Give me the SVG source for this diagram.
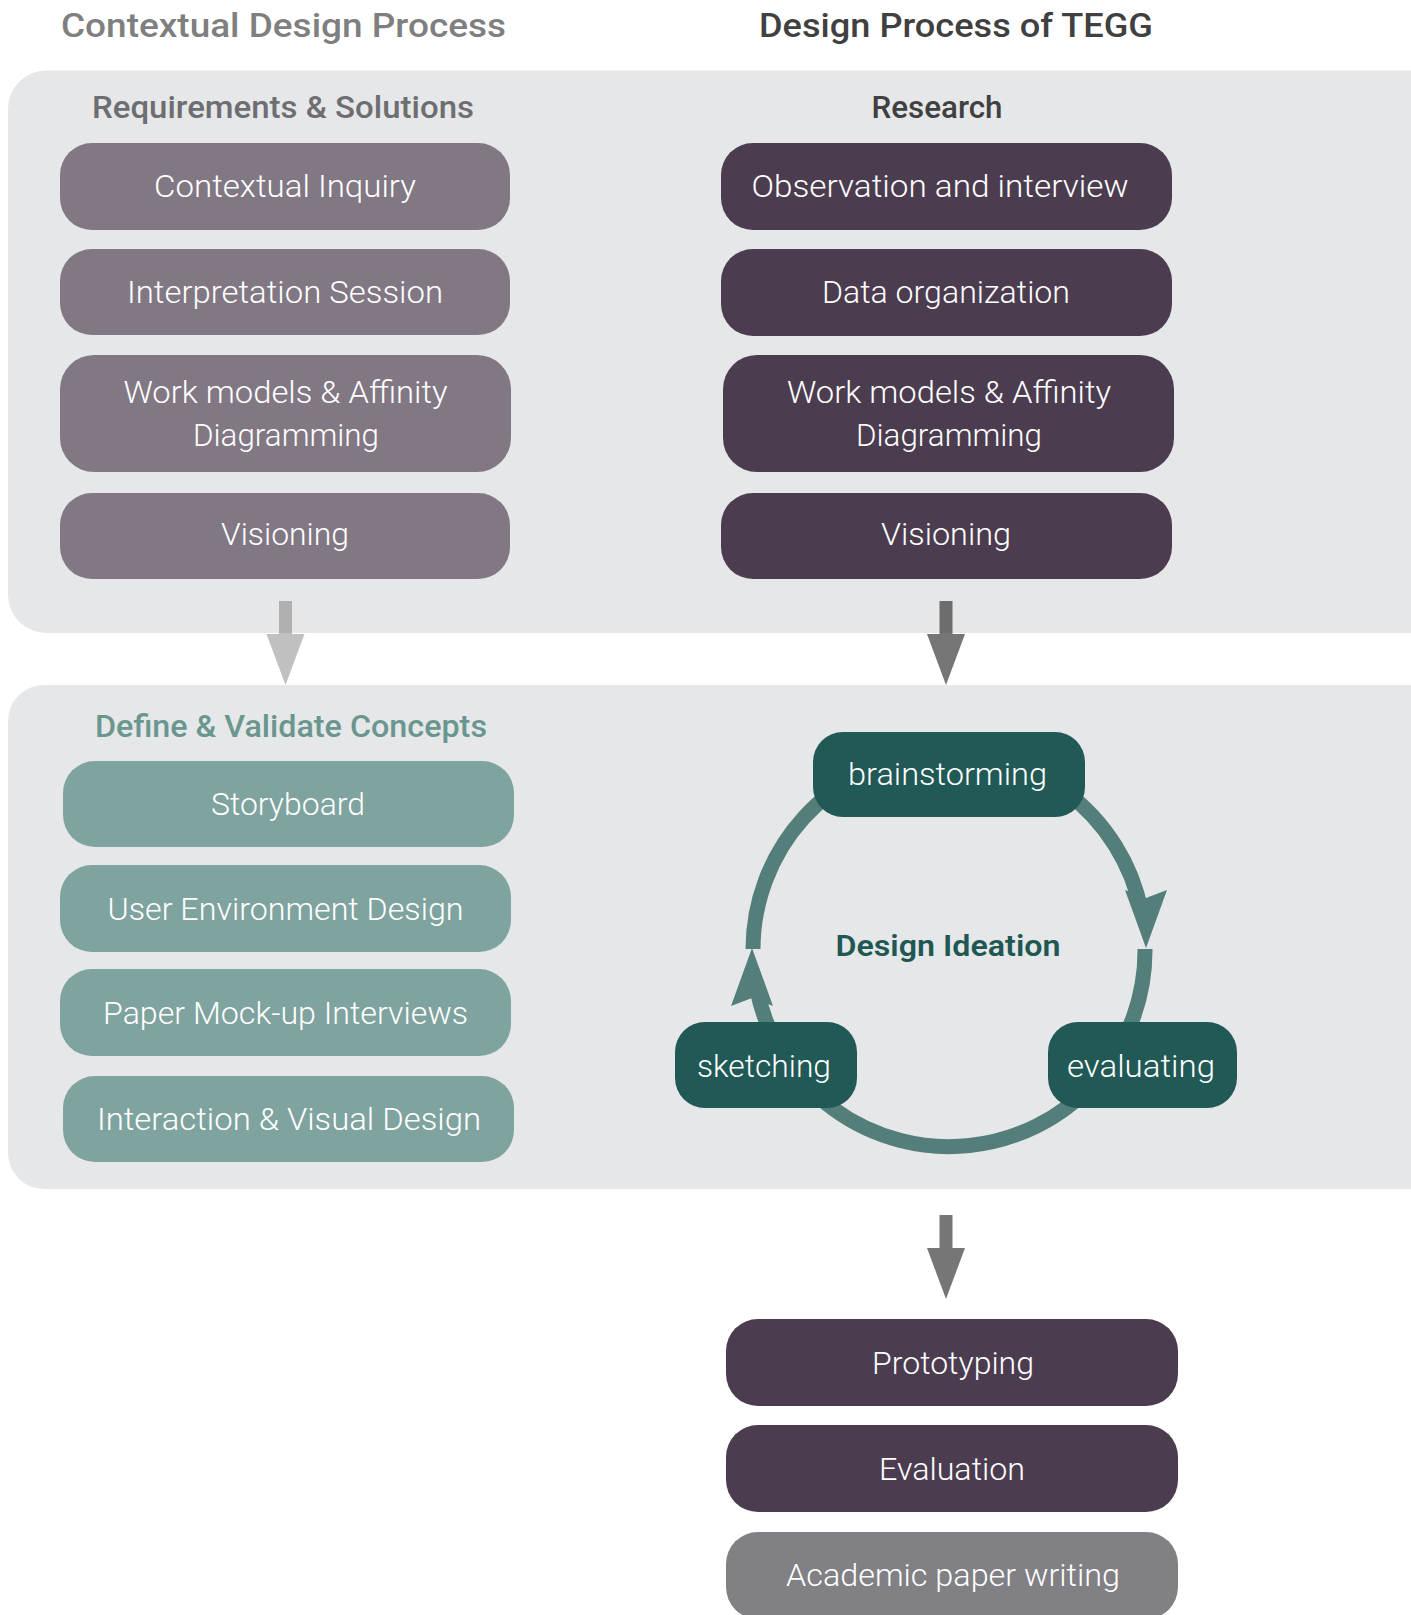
<svg xmlns="http://www.w3.org/2000/svg" xmlns:xlink="http://www.w3.org/1999/xlink" width="1411" height="1615" viewBox="0 0 1411 1615">
  <style>
    text { font-family: Roboto, "Open Sans", "Liberation Sans", sans-serif; }
    .title { font-size: 34px; font-weight: 500; text-anchor: middle; }
    .head { font-size: 30.5px; font-weight: 500; text-anchor: middle; }
    .lbl { font-size: 31px; font-weight: 300; fill: #ffffff; text-anchor: middle; }
    .panel { fill: #e6e7e8; }
    .cd { fill: #817884; }
    .tegg { fill: #4b3d4f; }
    .concept { fill: #7fa39f; }
    .cycle { fill: #205955; }
    .final { fill: #808085; }
    .ring { fill: none; stroke: #537e7a; stroke-width: 15; }
    .ring-head { fill: #537e7a; }
    .flow-light { fill: #505050; fill-opacity: 0.36; }
    .flow-dark { fill: #292929; fill-opacity: 0.64; }
  </style>
  <defs>
    <!-- block arrow between phases, top-centre at origin -->
    <path id="block-arrow" d="M -6.5 0 H 6.5 V 33 H 19 L 0 84 L -19 33 H -6.5 Z"/>
    <!-- notched arrowhead on the ideation ring, tip at origin pointing down -->
    <path id="ring-tip" d="M 0 0 L -21 -58 L 0 -50 L 21 -58 Z"/>
  </defs>

  <rect width="1411" height="1615" fill="#ffffff"/>

  <!-- column titles -->
  <text class="title" x="283.5" y="37" fill="#7f7f7f" textLength="445" lengthAdjust="spacingAndGlyphs">Contextual Design Process</text>
  <text class="title" x="956" y="37" fill="#404040" textLength="394" lengthAdjust="spacingAndGlyphs">Design Process of TEGG</text>

  <!-- phase panels -->
  <g id="panels">
    <rect class="panel" x="8" y="70.5" width="1460" height="562.5" rx="38"/>
    <rect class="panel" x="8" y="685" width="1460" height="504" rx="36"/>
  </g>

  <!-- section headings -->
  <text class="head" x="283" y="118" fill="#6d6e71" textLength="382" lengthAdjust="spacingAndGlyphs">Requirements &amp; Solutions</text>
  <text class="head" x="937" y="118" fill="#404040" textLength="131" lengthAdjust="spacingAndGlyphs">Research</text>
  <text class="head" x="291" y="737" fill="#6a9690" textLength="392" lengthAdjust="spacingAndGlyphs">Define &amp; Validate Concepts</text>

  <!-- connectors -->
  <g id="connectors">
    <use xlink:href="#block-arrow" class="flow-light" transform="translate(285.5 601)"/>
    <use xlink:href="#block-arrow" class="flow-dark" transform="translate(946 601)"/>
    <use xlink:href="#block-arrow" class="flow-dark" transform="translate(946 1215)"/>

    <!-- ideation cycle: sketching -> brainstorming -> evaluating -> sketching -->
    <path class="ring" d="M 753 949 A 196 196 0 0 1 1141 910"/>
    <path class="ring" d="M 1145 949 A 196 196 0 0 1 757 990"/>
    <use xlink:href="#ring-tip" class="ring-head" transform="translate(1146 948)"/>
    <use xlink:href="#ring-tip" class="ring-head" transform="translate(752 948) rotate(180)"/>
  </g>

  <!-- Contextual Design: requirements & solutions -->
  <g id="contextual-inquiry">
    <rect class="cd" x="60" y="143" width="450" height="87" rx="32"/>
    <text class="lbl" x="285" y="197" textLength="262" lengthAdjust="spacingAndGlyphs">Contextual Inquiry</text>
  </g>
  <g id="interpretation-session">
    <rect class="cd" x="60" y="249" width="450" height="86" rx="32"/>
    <text class="lbl" x="285" y="303" textLength="316" lengthAdjust="spacingAndGlyphs">Interpretation Session</text>
  </g>
  <g id="cd-work-models">
    <rect class="cd" x="60" y="355" width="451" height="117" rx="34"/>
    <text class="lbl" x="285.5" y="403" textLength="324" lengthAdjust="spacingAndGlyphs">Work models &amp; Affinity</text>
    <text class="lbl" x="286" y="446" textLength="186" lengthAdjust="spacingAndGlyphs">Diagramming</text>
  </g>
  <g id="cd-visioning">
    <rect class="cd" x="60" y="493" width="450" height="86" rx="32"/>
    <text class="lbl" x="285" y="545" textLength="128" lengthAdjust="spacingAndGlyphs">Visioning</text>
  </g>

  <!-- TEGG: research -->
  <g id="observation-interview">
    <rect class="tegg" x="721" y="143" width="451" height="87" rx="32"/>
    <text class="lbl" x="940" y="197" textLength="377" lengthAdjust="spacingAndGlyphs">Observation and interview</text>
  </g>
  <g id="data-organization">
    <rect class="tegg" x="721" y="249" width="451" height="87" rx="32"/>
    <text class="lbl" x="946" y="303" textLength="248" lengthAdjust="spacingAndGlyphs">Data organization</text>
  </g>
  <g id="tegg-work-models">
    <rect class="tegg" x="723" y="355" width="451" height="117" rx="34"/>
    <text class="lbl" x="949" y="403" textLength="324" lengthAdjust="spacingAndGlyphs">Work models &amp; Affinity</text>
    <text class="lbl" x="949" y="446" textLength="186" lengthAdjust="spacingAndGlyphs">Diagramming</text>
  </g>
  <g id="tegg-visioning">
    <rect class="tegg" x="721" y="493" width="451" height="86" rx="32"/>
    <text class="lbl" x="946" y="545" textLength="130" lengthAdjust="spacingAndGlyphs">Visioning</text>
  </g>

  <!-- Contextual Design: define & validate concepts -->
  <g id="storyboard">
    <rect class="concept" x="63" y="761" width="451" height="86" rx="32"/>
    <text class="lbl" x="288" y="815" textLength="154" lengthAdjust="spacingAndGlyphs">Storyboard</text>
  </g>
  <g id="user-environment-design">
    <rect class="concept" x="60" y="865" width="451" height="87" rx="32"/>
    <text class="lbl" x="285.5" y="920" textLength="356" lengthAdjust="spacingAndGlyphs">User Environment Design</text>
  </g>
  <g id="paper-mockup-interviews">
    <rect class="concept" x="60" y="969" width="451" height="87" rx="32"/>
    <text class="lbl" x="285.5" y="1024" textLength="365" lengthAdjust="spacingAndGlyphs">Paper Mock-up Interviews</text>
  </g>
  <g id="interaction-visual-design">
    <rect class="concept" x="63" y="1076" width="451" height="86" rx="32"/>
    <text class="lbl" x="289" y="1130" textLength="384" lengthAdjust="spacingAndGlyphs">Interaction &amp; Visual Design</text>
  </g>

  <!-- TEGG: design ideation cycle -->
  <g id="design-ideation">
    <text x="948" y="956" font-size="30px" font-weight="600" fill="#1f5753" text-anchor="middle" textLength="225" lengthAdjust="spacingAndGlyphs">Design Ideation</text>
  </g>
  <g id="brainstorming">
    <rect class="cycle" x="813" y="732" width="272" height="85" rx="30"/>
    <text class="lbl" x="947.5" y="785" textLength="199" lengthAdjust="spacingAndGlyphs">brainstorming</text>
  </g>
  <g id="sketching">
    <rect class="cycle" x="675" y="1022" width="182" height="86" rx="30"/>
    <text class="lbl" x="764" y="1077" textLength="134" lengthAdjust="spacingAndGlyphs">sketching</text>
  </g>
  <g id="evaluating">
    <rect class="cycle" x="1048" y="1022" width="189" height="86" rx="30"/>
    <text class="lbl" x="1141" y="1077" textLength="148" lengthAdjust="spacingAndGlyphs">evaluating</text>
  </g>

  <!-- TEGG: delivery -->
  <g id="prototyping">
    <rect class="tegg" x="726" y="1319" width="452" height="87" rx="32"/>
    <text class="lbl" x="953" y="1374" textLength="162" lengthAdjust="spacingAndGlyphs">Prototyping</text>
  </g>
  <g id="evaluation">
    <rect class="tegg" x="726" y="1425" width="452" height="87" rx="32"/>
    <text class="lbl" x="952" y="1480" textLength="146" lengthAdjust="spacingAndGlyphs">Evaluation</text>
  </g>
  <g id="academic-paper-writing">
    <rect class="final" x="726" y="1532" width="452" height="87" rx="32"/>
    <text class="lbl" x="953" y="1586" textLength="334" lengthAdjust="spacingAndGlyphs">Academic paper writing</text>
  </g>
</svg>
